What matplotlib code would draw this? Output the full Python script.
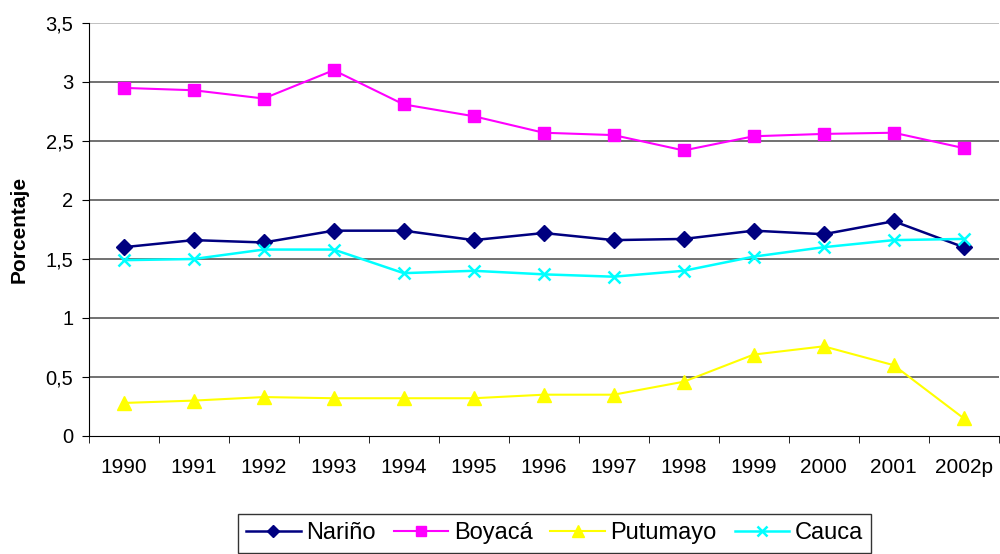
import matplotlib.pyplot as plt
from matplotlib.ticker import FuncFormatter

plt.rcParams['font.family'] = ['Liberation Sans', 'DejaVu Sans']

years = ['1990', '1991', '1992', '1993', '1994', '1995', '1996',
         '1997', '1998', '1999', '2000', '2001', '2002p']

narino = [1.60, 1.66, 1.64, 1.74, 1.74, 1.66, 1.72, 1.66, 1.67, 1.74, 1.71, 1.82, 1.60]
boyaca = [2.95, 2.93, 2.86, 3.10, 2.81, 2.71, 2.57, 2.55, 2.42, 2.54, 2.56, 2.57, 2.44]
putumayo = [0.28, 0.30, 0.33, 0.32, 0.32, 0.32, 0.35, 0.35, 0.46, 0.69, 0.76, 0.60, 0.15]
cauca = [1.49, 1.50, 1.58, 1.58, 1.38, 1.40, 1.37, 1.35, 1.40, 1.52, 1.60, 1.66, 1.67]

fig = plt.figure(figsize=(10, 5.54), dpi=100)
ax = fig.add_axes([0.0887, 0.213, 0.91, 0.7455])

x = range(len(years))
ax.plot(x, narino, color='#000080', marker='D', markersize=8, lw=1.8, label='Nariño')
ax.plot(x, boyaca, color='#FF00FF', marker='s', markersize=8.5, lw=1.5, label='Boyacá')
ax.plot(x, putumayo, color='#FFFF00', marker='^', markersize=10, lw=1.5, label='Putumayo')
ax.plot(x, cauca, color='#00FFFF', marker='x', markersize=9, mew=1.8, lw=1.8, label='Cauca')

ax.set_xlim(-0.5, len(years) - 0.5)
ax.set_ylim(0, 3.5)
ax.set_yticks([0, 0.5, 1, 1.5, 2, 2.5, 3, 3.5])
ax.yaxis.set_major_formatter(FuncFormatter(lambda v, p: ('%g' % v).replace('.', ',')))
ax.set_xticks(list(x))
ax.set_xticklabels(years)
ax.set_xticks([i - 0.5 for i in range(len(years) + 1)], minor=True)
ax.tick_params(axis='x', which='major', length=0, pad=16, labelsize=15)
ax.tick_params(axis='x', which='minor', length=5, direction='out', color='black')
ax.tick_params(axis='y', length=5, direction='out', labelsize=14.5, pad=6)

# gridlines: dark grey, the top one lighter
for v in [0.5, 1, 1.5, 2, 2.5, 3]:
    ax.axhline(v, color='#666666', lw=1.3, zorder=0)
ax.axhline(3.5, color='#bbbbbb', lw=1.3, zorder=0)

for s in ['top', 'right']:
    ax.spines[s].set_visible(False)
ax.spines['left'].set_color('black')
ax.spines['bottom'].set_color('black')

ax.set_ylabel('Porcentaje', fontsize=15, fontweight='bold', labelpad=12)

leg = fig.legend(loc='upper left', bbox_to_anchor=(0.238, 1 - 514 / 554), ncol=4,
                 fontsize=17, frameon=True, fancybox=False, edgecolor='black',
                 handlelength=2.3, columnspacing=0.75, handletextpad=0.25,
                 borderpad=0.35, borderaxespad=0, markerscale=0.8)
leg.get_frame().set_linewidth(1.0)

fig.savefig('out.png', dpi=100)
